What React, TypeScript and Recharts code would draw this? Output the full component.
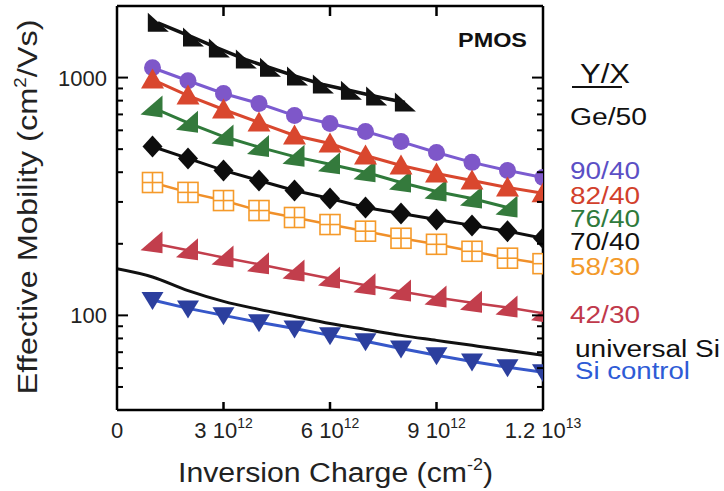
import React from 'react';
import { LineChart, Line, XAxis, YAxis } from 'recharts';

// inversion charge, in units of 1e12 cm^-2
const charge = [1, 2, 3, 4, 5, 6, 7, 8, 9, 10, 11, 12];
const chargeGe = [1.15, 2.14, 2.87, 3.63, 4.31, 5.07, 5.8, 6.59, 7.3, 8.11];
const chargeUniversal = [0, 1, 2, 3, 4, 5, 6, 7, 8, 9, 10, 11, 12];

// effective mobility, cm^2/Vs
const muGe50 = [1700, 1475, 1325, 1190, 1100, 1010, 935, 880, 832, 785];
const mu90 = [1100, 970, 857, 778, 692, 641, 593, 538, 484, 440, 407, 380];
const mu82 = [981, 840, 734, 647, 571, 528, 470, 427, 395, 369, 345, 326];
const mu76 = [748, 645, 565, 510, 465, 432, 400, 362, 332, 310, 284];
const mu70 = [513, 457, 407, 369, 335, 310, 284, 268, 253, 239, 226, 211];
const mu58 = [362, 329, 304, 276, 258, 241, 226, 211, 199, 186, 174, 165];
const mu42 = [201, 188, 175, 164, 153, 143, 134, 126, 119, 113, 108, 102];
const muUniversal = [157, 145, 127, 114.5, 106, 99, 92.5, 87.3, 82.4, 78.5, 74.8, 71.3, 68];
const muSiControl = [116, 107, 100, 93.5, 88, 82.4, 77.8, 72.6, 68, 64, 60.5, 57.7];

const xTicks = [0, 3, 6, 9, 12];
const xTickBase = ['0', '3 10', '6 10', '9 10', '1.2 10'];
const xTickExp = ['', '12', '12', '12', '13'];
const yTicks = [50, 60, 70, 80, 90, 100, 200, 300, 400, 500, 600, 700, 800, 900, 1000];
const yMajor = [100, 1000];

const FONT = '"Liberation Sans", Arial, Helvetica, sans-serif';

const pts = (xs: number[], ys: number[]) => xs.map((x, i) => ({ x, y: ys[i] }));

const series = [
  { id: 'universal', data: pts(chargeUniversal, muUniversal), fill: '#111', line: '#111', width: 3, shape: 'none' },
  { id: 'sicontrol', data: pts(charge, muSiControl), fill: '#2c3f9e', line: '#3657c9', width: 3, shape: 'down' },
  { id: 'r42', data: pts(charge, mu42), fill: '#c23e4c', line: '#c23e4c', width: 2.5, shape: 'wedge' },
  { id: 'r58', data: pts(charge, mu58), fill: '#f59a2a', line: '#f0902a', width: 2.5, shape: 'grid' },
  { id: 'r70', data: pts(charge, mu70), fill: '#0d0d0d', line: '#0d0d0d', width: 3, shape: 'diamond' },
  { id: 'r76', data: pts(charge.slice(0, 11), mu76), fill: '#347a3c', line: '#2f7a3a', width: 3, shape: 'wedge' },
  { id: 'r90', data: pts(charge, mu90), fill: '#7e57c9', line: '#7b5bd0', width: 3, shape: 'circle' },
  { id: 'r82', data: pts(charge, mu82), fill: '#d9472e', line: '#d9472e', width: 3, shape: 'up' },
  { id: 'ge50', data: pts(chargeGe, muGe50), fill: '#111', line: '#111', width: 3.5, shape: 'flag' },
];

const makeDot = (shape: string, fill: string) => (props: any) => {
  const { cx, cy, index } = props;
  const key = `${shape}-${index}`;
  if (cx == null || cy == null || shape === 'none') return <g key={key} />;
  const poly = (p: number[][]) => (
    <polygon key={key} points={p.map(([dx, dy]) => `${cx + dx},${cy + dy}`).join(' ')} fill={fill} />
  );
  switch (shape) {
    case 'circle':
      return <circle key={key} cx={cx} cy={cy} r={8.5} fill={fill} />;
    case 'up':
      return poly([[0, -11], [11.5, 9], [-11.5, 9]]);
    case 'down':
      return poly([[-11, -8], [11, -8], [0, 10]]);
    case 'wedge':
      return poly([[10, -12], [10, 10], [-12, 7]]);
    case 'flag':
      return poly([[-10, -10], [11, 9], [-10, 9]]);
    case 'diamond':
      return poly([[0, -11], [10, 0], [0, 11], [-10, 0]]);
    case 'grid':
      return (
        <g key={key} stroke={fill} strokeWidth={1.6}>
          <rect x={cx - 10} y={cy - 10} width={20} height={20} fill="#fff" />
          <line x1={cx} x2={cx} y1={cy - 10} y2={cy + 10} />
          <line x1={cx - 10} x2={cx + 10} y1={cy} y2={cy} />
        </g>
      );
    default:
      return <g key={key} />;
  }
};

const LeftTick = (props: any) => {
  const { x, y, payload } = props;
  const major = yMajor.includes(payload.value);
  return (
    <g>
      <line x1={x} x2={x + (major ? 11 : 6)} y1={y} y2={y} stroke="#000" strokeWidth={2} />
      {major && (
        <text x={x - 10} y={y + 8} textAnchor="end" fontSize={22} fontFamily={FONT} fill="#222">
          {payload.value}
        </text>
      )}
    </g>
  );
};

const RightTick = (props: any) => {
  const { x, y, payload } = props;
  const major = yMajor.includes(payload.value);
  return <line x1={x} x2={x - (major ? 11 : 6)} y1={y} y2={y} stroke="#000" strokeWidth={2} />;
};

const BottomTick = (props: any) => {
  const { x, y, index } = props;
  return (
    <g>
      {index > 0 && index < xTicks.length - 1 && (
        <line x1={x} x2={x} y1={y} y2={y - 8} stroke="#000" strokeWidth={2.5} />
      )}
      <text x={x} y={y + 28} textAnchor="middle" fontSize={22} fontFamily={FONT} fill="#222">
        {xTickBase[index]}
        {xTickExp[index] && (
          <tspan dy={-10} fontSize={14}>
            {xTickExp[index]}
          </tspan>
        )}
      </text>
    </g>
  );
};

const TopTick = (props: any) => {
  const { x, y, index } = props;
  if (index === 0 || index === xTicks.length - 1) return <g />;
  return <line x1={x} x2={x} y1={y} y2={y + 10} stroke="#000" strokeWidth={2.5} />;
};

const legend = [
  { text: 'Ge/50', y: 125, color: '#111', len: 77 },
  { text: '90/40', y: 179, color: '#5b4fc5', len: 70 },
  { text: '82/40', y: 204, color: '#d2402c', len: 70 },
  { text: '76/40', y: 227, color: '#2e7a3c', len: 70 },
  { text: '70/40', y: 250, color: '#111', len: 70 },
  { text: '58/30', y: 275, color: '#f39a2b', len: 70 },
  { text: '42/30', y: 323, color: '#c0394b', len: 70 },
  { text: 'universal Si', y: 357, color: '#111', len: 145 },
  { text: 'Si control', y: 379, color: '#2e5bd6', len: 115 },
];

const axisStyle = { stroke: '#000', strokeWidth: 2.5 };

export default function App() {
  return (
    <div style={{ position: 'absolute', left: 0, top: 0, width: 724, height: 491, background: '#fff' }}>
      <LineChart width={724} height={491} margin={{ top: 5, right: 180, bottom: 80, left: 116 }}>
        <XAxis
          xAxisId="bottom"
          dataKey="x"
          type="number"
          domain={[0, 12]}
          ticks={xTicks}
          interval={0}
          allowDataOverflow
          height={1}
          tickSize={0}
          tickMargin={0}
          tickLine={false}
          axisLine={axisStyle}
          tick={(p: any) => <BottomTick {...p} />}
        />
        <XAxis
          xAxisId="top"
          orientation="top"
          dataKey="x"
          type="number"
          domain={[0, 12]}
          ticks={xTicks}
          interval={0}
          allowDataOverflow
          height={1}
          tickSize={0}
          tickMargin={0}
          tickLine={false}
          axisLine={axisStyle}
          tick={(p: any) => <TopTick {...p} />}
        />
        <YAxis
          yAxisId="left"
          type="number"
          scale="log"
          domain={[40, 2000]}
          ticks={yTicks}
          interval={0}
          allowDataOverflow
          width={1}
          tickSize={0}
          tickMargin={0}
          tickLine={false}
          axisLine={axisStyle}
          tick={(p: any) => <LeftTick {...p} />}
        />
        <YAxis
          yAxisId="right"
          orientation="right"
          type="number"
          scale="log"
          domain={[40, 2000]}
          ticks={yTicks}
          interval={0}
          allowDataOverflow
          width={1}
          tickSize={0}
          tickMargin={0}
          tickLine={false}
          axisLine={axisStyle}
          tick={(p: any) => <RightTick {...p} />}
        />
        {series.map((s) => (
          <Line
            key={s.id}
            xAxisId="bottom"
            yAxisId="left"
            data={s.data}
            dataKey="y"
            type={s.id === 'universal' ? 'monotone' : 'linear'}
            stroke={s.line}
            strokeWidth={s.width}
            dot={makeDot(s.shape, s.fill)}
            activeDot={false}
            isAnimationActive={false}
          />
        ))}
      </LineChart>
      <svg
        width={724}
        height={491}
        style={{ position: 'absolute', left: 0, top: 0, pointerEvents: 'none' }}
        fontFamily={FONT}
      >
        <text x={458} y={47} fontSize={20} fontWeight="bold" fill="#111" textLength={69} lengthAdjust="spacingAndGlyphs">
          PMOS
        </text>
        <text x={580} y={83} fontSize={27} fill="#111" textLength={50} lengthAdjust="spacingAndGlyphs">
          Y/X
        </text>
        <line x1={572} x2={622} y1={87} y2={87} stroke="#111" strokeWidth={2} />
        {legend.map((l) => (
          <text
            key={l.text}
            x={l.text === 'universal Si' || l.text === 'Si control' ? 575 : 570}
            y={l.y}
            fontSize={23}
            fill={l.color}
            textLength={l.len}
            lengthAdjust="spacingAndGlyphs"
          >
            {l.text}
          </text>
        ))}
        <text x={178} y={482} fontSize={27} fill="#222" textLength={315} lengthAdjust="spacingAndGlyphs">
          Inversion Charge (cm
          <tspan dy={-12} fontSize={16}>-2</tspan>
          <tspan dy={12}>)</tspan>
        </text>
        <text
          transform="translate(37,207) rotate(-90)"
          textAnchor="middle"
          fontSize={28}
          fill="#222"
          textLength={375}
          lengthAdjust="spacingAndGlyphs"
        >
          Effective Mobility (cm
          <tspan dy={-11} fontSize={16}>2</tspan>
          <tspan dy={11}>/Vs)</tspan>
        </text>
      </svg>
    </div>
  );
}
